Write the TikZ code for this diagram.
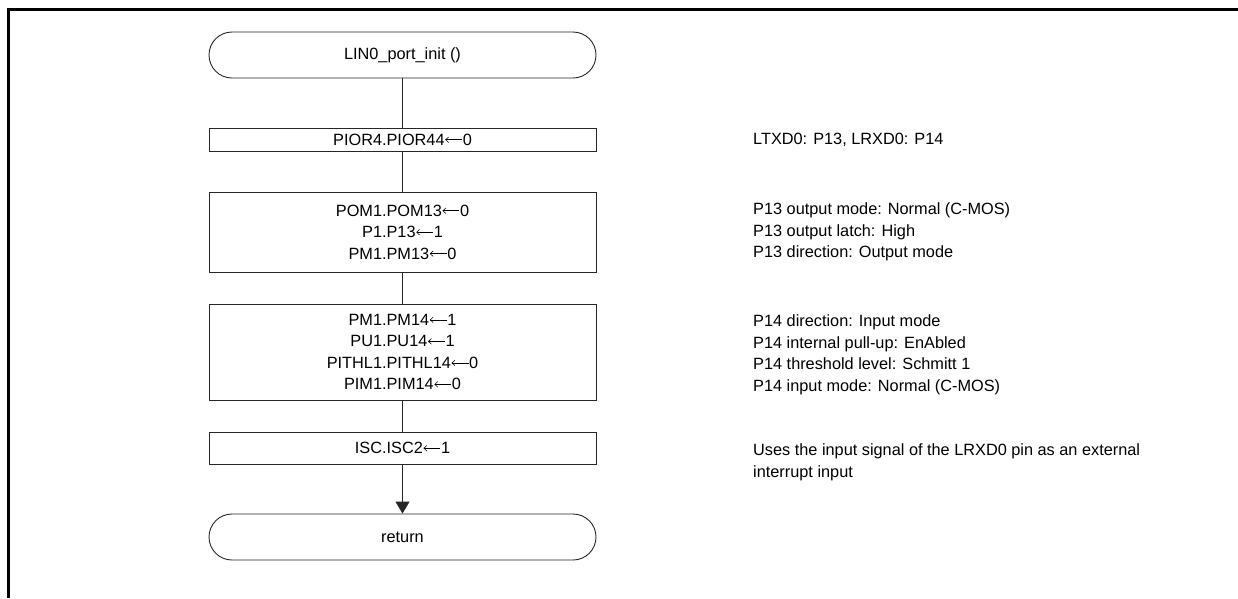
\documentclass[tikz,border=0pt]{standalone}
\usepackage{fontspec}
\setmainfont{Liberation Sans}
\usetikzlibrary{arrows.meta}
\newcommand\asgn{\kern0.3pt\tikz[baseline=0pt]\draw[line width=0.55pt,{Straight Barb[length=3pt,width=5.5pt]}-] (0pt,5.4pt) -- (17pt,5.4pt);\kern0.3pt}
\begin{document}
\begin{tikzpicture}[x=1pt,y=-1pt,
  every node/.style={font=\fontsize{16.3}{21.5}\selectfont, inner sep=0pt},
  terminal/.style={draw=black!85, line width=0.9pt, rounded corners=23pt, minimum width=387pt, minimum height=46pt, align=center},
  procbox/.style={draw=black!85, line width=0.9pt, minimum width=387pt, align=center},
  note/.style={anchor=west, align=left},
  conn/.style={draw=black!85, line width=0.9pt},
  frame/.style={line width=3pt}
]
\useasboundingbox (0,0) rectangle (1238,598);
\draw[frame] (1238,9.5) -- (8.5,9.5) -- (8.5,598);

\node[terminal] (start) at (402.5,55) {LIN0\_port\_init ()};
\node[procbox, minimum height=23pt] (b1) at (402.5,139.5) {PIOR4.PIOR44\asgn0};
\node[procbox, minimum height=80pt] (b2) at (402.5,232) {POM1.POM13\asgn0\\P1.P13\asgn1\\PM1.PM13\asgn0};
\node[procbox, minimum height=96pt] (b3) at (402.5,352) {PM1.PM14\asgn1\\PU1.PU14\asgn1\\PITHL1.PITHL14\asgn0\\PIM1.PIM14\asgn0};
\node[procbox, minimum height=32pt] (b4) at (402.5,448) {ISC.ISC2\asgn1};
\node[terminal] (stop) at (402.5,537) {return};

\draw[conn] (start.south) -- (b1.north);
\draw[conn] (b1.south) -- (b2.north);
\draw[conn] (b2.south) -- (b3.north);
\draw[conn] (b3.south) -- (b4.north);
\draw[conn, -{Triangle[width=14pt,length=12pt]}] (b4.south) -- (stop.north);

\node[note] (n1) at (753,140) {LTXD0: P13, LRXD0: P14};
\node[note] (n2) at (753,232) {P13 output mode: Normal (C-MOS)\\P13 output latch: High\\P13 direction: Output mode};
\node[note] (n3) at (753,355) {P14 direction: Input mode\\P14 internal pull-up: EnAbled\\P14 threshold level: Schmitt 1\\P14 input mode: Normal (C-MOS)};
\node[note] (n4) at (753,462.5) {Uses the input signal of the LRXD0 pin as an external\\interrupt input};
\end{tikzpicture}
\end{document}
